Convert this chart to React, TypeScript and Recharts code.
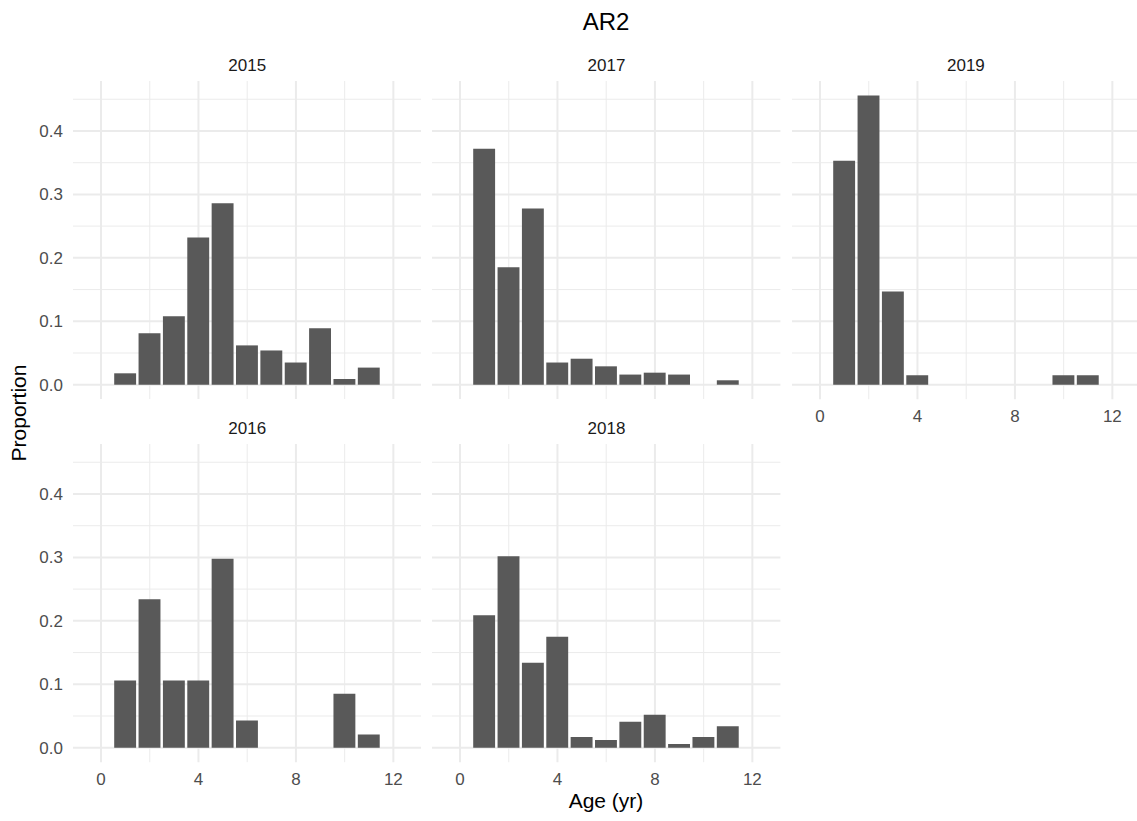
import { Bar, BarChart, CartesianGrid, XAxis, YAxis } from "recharts"

// proportion at age (yr), ages 1..11
const ages = [1, 2, 3, 4, 5, 6, 7, 8, 9, 10, 11]
const p2015 = [0.018, 0.081, 0.108, 0.232, 0.286, 0.062, 0.054, 0.035, 0.089, 0.009, 0.027]
const p2016 = [0.106, 0.234, 0.106, 0.106, 0.298, 0.043, 0, 0, 0, 0.085, 0.021]
const p2017 = [0.372, 0.185, 0.278, 0.035, 0.041, 0.029, 0.016, 0.019, 0.016, 0, 0.007]
const p2018 = [0.209, 0.302, 0.134, 0.175, 0.017, 0.012, 0.041, 0.052, 0.006, 0.017, 0.034]
const p2019 = [0.353, 0.456, 0.147, 0.015, 0, 0, 0, 0, 0, 0.015, 0.015]

const xTicks = [0, 4, 8, 12]
const xMinor = [2, 6, 10]
const yTicks = [0, 0.1, 0.2, 0.3, 0.4]
const yMinor = [0.05, 0.15, 0.25, 0.35, 0.45]

const FONT = '"Liberation Sans", Arial, Helvetica, sans-serif'
const colLeft = [73, 432.3, 791.7]
const rowTop = [80.6, 444]
const plotW = 348.4
const plotH = 318.2
const Y_W = 50
const X_H = 30

const panels = [
  { year: "2015", values: p2015, col: 0, row: 0, showY: true, showX: false },
  { year: "2016", values: p2016, col: 0, row: 1, showY: true, showX: true },
  { year: "2017", values: p2017, col: 1, row: 0, showY: false, showX: false },
  { year: "2018", values: p2018, col: 1, row: 1, showY: false, showX: true },
  { year: "2019", values: p2019, col: 2, row: 0, showY: false, showX: true },
]

const tickStyle = { fill: "#4d4d4d", fontSize: 17, fontFamily: FONT }

function Panel({ values, showX, showY }: { values: number[]; showX: boolean; showY: boolean }) {
  const data = ages.map((age, i) => ({ age, prop: values[i] }))
  return (
    <BarChart
      width={plotW + (showY ? Y_W : 0)}
      height={plotH + (showX ? X_H : 0)}
      data={data}
      margin={{ top: 0, right: 0, bottom: 0, left: 0 }}
    >
      <CartesianGrid
        stroke="#ebebeb"
        strokeWidth={1}
        horizontalValues={yMinor}
        verticalValues={xMinor}
      />
      <CartesianGrid
        stroke="#ebebeb"
        strokeWidth={2}
        horizontalValues={yTicks}
        verticalValues={xTicks}
      />
      <XAxis
        dataKey="age"
        type="number"
        domain={[-1.15, 13.15]}
        ticks={xTicks}
        allowDataOverflow
        hide={!showX}
        height={X_H}
        axisLine={false}
        tickLine={false}
        tickSize={0}
        tickMargin={11}
        tick={tickStyle}
        interval={0}
      />
      <YAxis
        type="number"
        domain={[-0.0228, 0.4788]}
        ticks={yTicks}
        allowDataOverflow
        hide={!showY}
        width={Y_W}
        axisLine={false}
        tickLine={false}
        tickSize={0}
        tickMargin={10}
        tick={tickStyle}
        interval={0}
        tickFormatter={(v: number) => v.toFixed(1)}
      />
      <Bar dataKey="prop" fill="#595959" barSize={21.9} isAnimationActive={false} />
    </BarChart>
  )
}

export default function App() {
  return (
    <div
      style={{
        position: "absolute",
        left: 0,
        top: 0,
        width: 1137,
        height: 821,
        overflow: "hidden",
        background: "#fff",
        fontFamily: FONT,
      }}
    >
      {panels.map((p) => (
        <div
          key={p.year}
          style={{
            position: "absolute",
            left: colLeft[p.col] - (p.showY ? Y_W : 0),
            top: rowTop[p.row],
          }}
        >
          <Panel values={p.values} showX={p.showX} showY={p.showY} />
        </div>
      ))}
      <svg
        width={1137}
        height={821}
        style={{ position: "absolute", left: 0, top: 0, pointerEvents: "none" }}
      >
        <text x={606} y={30} textAnchor="middle" fontSize={24} fill="#000" fontFamily={FONT}>
          AR2
        </text>
        {panels.map((p) => (
          <text
            key={p.year}
            x={colLeft[p.col] + plotW / 2}
            y={p.row === 0 ? 70.5 : 434.2}
            textAnchor="middle"
            fontSize={17}
            fill="#1a1a1a"
            fontFamily={FONT}
          >
            {p.year}
          </text>
        ))}
        <text x={606} y={808} textAnchor="middle" fontSize={21} fill="#000" fontFamily={FONT}>
          Age (yr)
        </text>
        <text
          x={0}
          y={0}
          transform="translate(26 413) rotate(-90)"
          textAnchor="middle"
          fontSize={21}
          fill="#000"
          fontFamily={FONT}
        >
          Proportion
        </text>
      </svg>
    </div>
  )
}
